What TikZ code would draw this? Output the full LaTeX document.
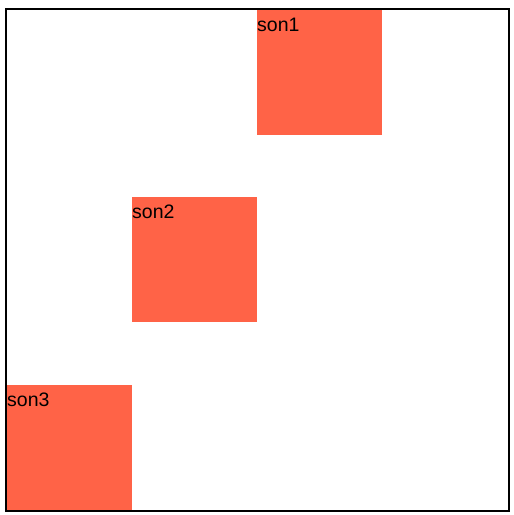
\documentclass[tikz,border=0pt]{standalone}
\usepackage{fontspec}
\setmainfont{Liberation Sans}
\definecolor{tomato}{HTML}{FF6347}
\begin{document}
\begin{tikzpicture}[x=1pt,y=-1pt,
  sonbox/.style={fill=tomato,draw=none,minimum width=125pt,minimum height=125pt,inner sep=0pt,anchor=north west},
  sonlabel/.style={anchor=base west,inner sep=0pt,font=\fontsize{19.5}{22}\selectfont}]
\useasboundingbox (0,0) rectangle (514,515);
\draw[line width=2pt] (6,9) rectangle (508.5,511);
\node[sonbox] (b1) at (257,10) {};
\node[sonbox] (b2) at (132,197) {};
\node[sonbox] (b3) at (7,385) {};
\node[sonlabel] (t1) at ([xshift=0pt,yshift=-21.5pt]b1.north west) {son1};
\node[sonlabel] (t2) at ([xshift=0pt,yshift=-21.5pt]b2.north west) {son2};
\node[sonlabel] (t3) at ([xshift=0pt,yshift=-21.5pt]b3.north west) {son3};
\end{tikzpicture}
\end{document}
